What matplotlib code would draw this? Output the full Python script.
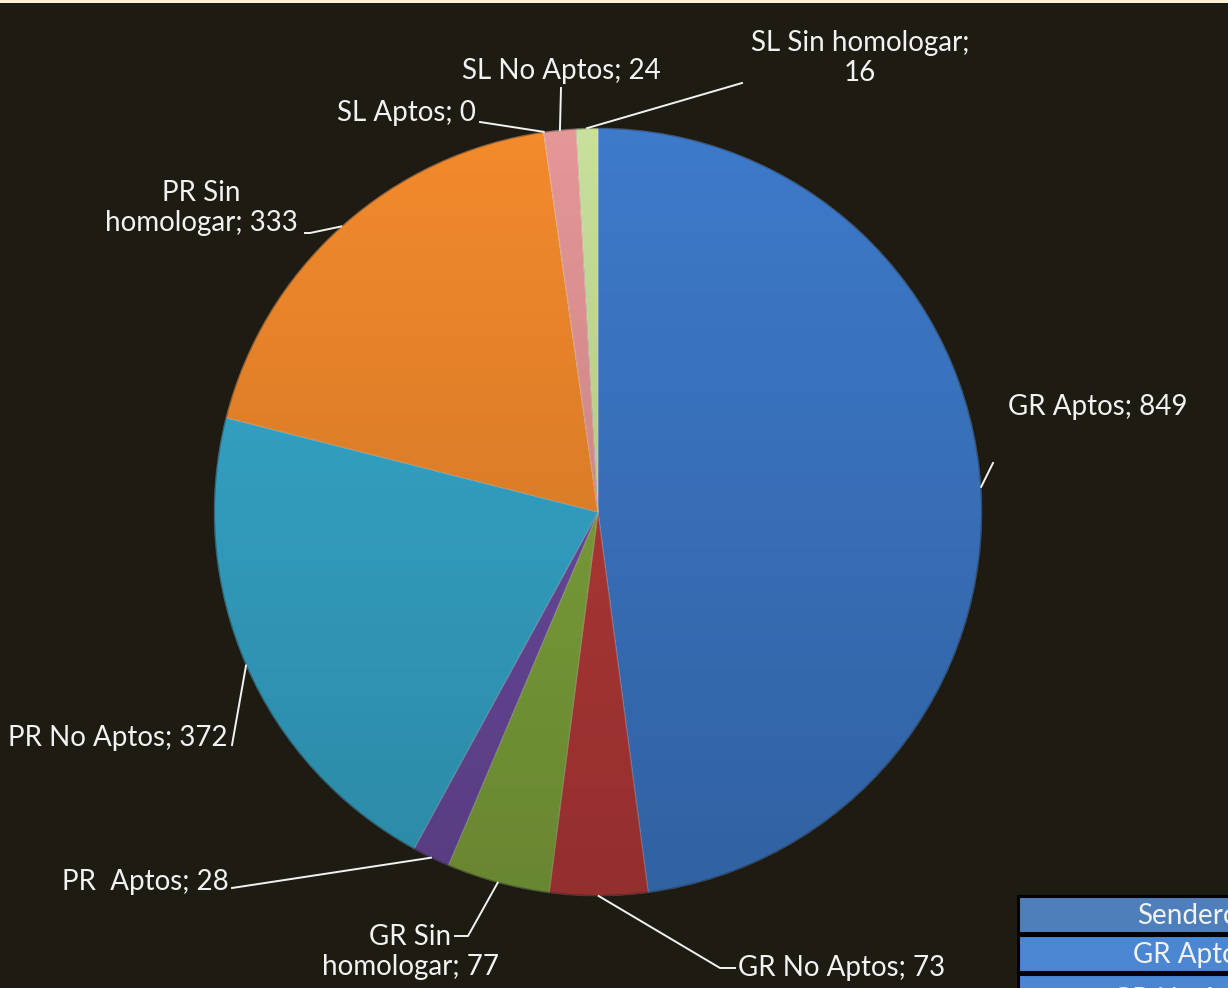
import numpy as np
import matplotlib.pyplot as plt
from matplotlib.patches import Circle, Rectangle

labels = ['GR Aptos', 'GR No Aptos', 'GR Sin\nhomologar', 'PR  Aptos', 'PR No Aptos',
          'PR Sin\nhomologar', 'SL Aptos', 'SL No Aptos', 'SL Sin homologar;\n']
values = [849, 73, 77, 28, 372, 333, 0, 24, 16]
colors = ['#3d7aca', '#b83b39', '#82a83d', '#6e4ca2', '#37abcf',
          '#f38a2c', '#e0a0a0', '#e59696', '#c8e09c']

table_rows = ['Senderos', 'GR Aptos', 'GR No Aptos']

bg = '#1e1c12'
W, H = 1228, 988
cx, cy, R = 598, 512, 384

fig = plt.figure(figsize=(W / 100, H / 100), dpi=100, facecolor=bg)
ax = fig.add_axes([0, 0, 1, 1])
ax.set_facecolor(bg)

# inverted y: counterclock in data = clockwise on screen
wedges, _ = ax.pie(values, colors=colors, startangle=270, counterclock=True,
                   center=(cx, cy), radius=R, frame=True,
                   wedgeprops=dict(edgecolor=(1, 1, 1, 0.25), linewidth=0.8))
ax.set_xlim(0, W)
ax.set_ylim(H, 0)
ax.axis('off')

# soft shading over the pie
grad = np.linspace(0, 1, 256).reshape(-1, 1)
shade = np.zeros((256, 1, 4))
shade[..., 3] = 0.2 * grad
im = ax.imshow(shade, extent=(cx - R, cx + R, cy + R, cy - R), aspect='auto', zorder=3)
im.set_clip_path(Circle((cx, cy), R, transform=ax.transData))
ax.add_patch(Circle((cx, cy), R, fill=False, edgecolor=(0, 0, 0, 0.35), lw=1.5, zorder=4))
ax.set_xlim(0, W)
ax.set_ylim(H, 0)


def anchor(w):
    t = np.deg2rad((w.theta1 + w.theta2) / 2)
    return cx + R * np.cos(t), cy + R * np.sin(t)


font = dict(family=['Lato', 'DejaVu Sans'], fontsize=20, color='#f2f2f2')
lc = dict(color='#f2f2f2', lw=1.4, zorder=5)

# label layout: text position, alignment, leader bend points
layout = [
    ((1008, 407), 'left', [(993, 463)]),
    ((738, 968), 'left', [(720, 968), (735, 968)]),
    ((410, 952), 'center', [(468, 936), (455, 936)]),
    ((229, 882), 'right', [(232, 888)]),
    ((228, 738), 'right', [(232, 745)]),
    ((201, 208), 'center', [(310, 233), (305, 233)]),
    ((476, 113), 'right', [(480, 122)]),
    ((561, 71), 'center', [(561, 88)]),
    ((860, 58), 'center', [(742, 83)]),
]

for w, lab, v, (pos, ha, pts) in zip(wedges, labels, values, layout):
    ax0, ay0 = anchor(w)
    xs = [ax0] + [p[0] for p in pts]
    ys = [ay0] + [p[1] for p in pts]
    ax.plot(xs, ys, **lc)
    sep = '' if lab.endswith('\n') else '; '
    ax.text(pos[0], pos[1], f'{lab}{sep}{v}', ha=ha, va='center',
            multialignment='center', linespacing=1.15, zorder=6, **font)

# partial table at bottom right
row_cols = ['#4f7fbb', '#4a86d2', '#4a86d2']
row_tops = [896, 935, 974]
for top, name, c in zip(row_tops, table_rows, row_cols):
    ax.add_patch(Rectangle((1018, top), 260, 37, facecolor=c, edgecolor='black',
                           lw=2.2, zorder=6, clip_on=False))
ax.text(1137, 916, table_rows[0], ha='left', va='center', zorder=7, **font)
ax.text(1133, 955, table_rows[1], ha='left', va='center', zorder=7, **font)
ax.text(1112, 1000, table_rows[2], ha='left', va='center', zorder=7, **font)

# thin light border on top edge
fig.patches.append(Rectangle((0, 1 - 3 / H), 1, 3 / H, transform=fig.transFigure,
                             facecolor='#fdf1d6', edgecolor='none'))

fig.savefig('out.png', dpi=100, facecolor=bg)
